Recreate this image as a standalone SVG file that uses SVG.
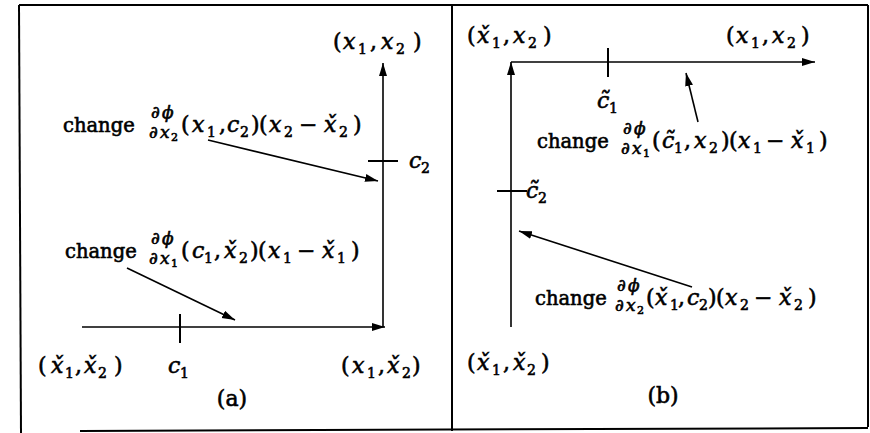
<svg xmlns="http://www.w3.org/2000/svg" width="870" height="433" viewBox="0 0 870 433">
<style>
.t{font-family:"DejaVu Serif","Liberation Serif",serif;font-size:22px;fill:#000;stroke:#000;stroke-width:0.6}
.ch{font-size:19.5px}
.i{font-style:italic;font-size:22px}
.s{font-size:14px}
.f{font-size:17px;font-style:italic}
.fs{font-size:11px}
.ln{stroke:#000;stroke-width:2;fill:none}
.ar{stroke:#000;stroke-width:1.6;fill:none;marker-end:url(#ah)}
.fr{stroke:#000;stroke-width:2;fill:none}
</style>
<defs>
<marker id="ah" markerUnits="userSpaceOnUse" markerWidth="14" markerHeight="10" refX="13" refY="4" orient="auto">
<path d="M0,0 L13,4 L0,8 Z" fill="#000"/>
</marker>
</defs>
<rect width="870" height="433" fill="#fff"/>
<g id="frame">
<line class="fr" x1="19" y1="5" x2="868" y2="5"/>
<line class="fr" x1="19" y1="5" x2="21" y2="433"/>
<line class="fr" x1="868" y1="5" x2="868" y2="427"/>
<line class="fr" x1="452" y1="5" x2="452" y2="431"/>
<line class="fr" x1="80" y1="431" x2="868" y2="428"/>
</g>
<g id="connectors">
<line class="ar" x1="82" y1="327" x2="385" y2="327"/>
<line class="ar" x1="383" y1="327" x2="383" y2="63"/>
<line class="ln" x1="368" y1="161" x2="398" y2="161"/>
<line class="ln" x1="180" y1="314" x2="180" y2="343"/>
<line class="ar" x1="208" y1="140" x2="378" y2="181"/>
<line class="ar" x1="127" y1="268" x2="235" y2="320"/>
<line class="ar" x1="511" y1="62" x2="815" y2="62"/>
<line class="ar" x1="511" y1="327" x2="511" y2="62"/>
<line class="ln" x1="608" y1="48" x2="608" y2="77"/>
<line class="ln" x1="497" y1="191" x2="527" y2="191"/>
<line class="ar" x1="698" y1="122" x2="686" y2="73"/>
<line class="ar" x1="692" y1="287" x2="519" y2="231"/>
</g>
<g id="panel-a">
<g id="a-top">
<text class="t"><tspan x="333" y="49">(</tspan><tspan class="i" x="343">x</tspan><tspan class="s" x="358" y="54">1</tspan><tspan x="370" y="49">,</tspan><tspan class="i" x="381">x</tspan><tspan class="s" x="396" y="54">2</tspan><tspan x="413" y="49">)</tspan></text>
</g>
<g id="a-c2">
<text class="t"><tspan class="i" x="409" y="168">c</tspan><tspan class="s" x="421" y="173">2</tspan></text>
</g>
<g id="a-change2">
<text class="t"><tspan class="ch" x="63" y="132">change</tspan><tspan class="f" x="151 162" y="118">∂ϕ</tspan><tspan class="f" x="149 160" y="138">∂x</tspan><tspan class="fs" x="171" y="141">2</tspan><tspan x="181" y="132">(</tspan><tspan class="i" x="192">x</tspan><tspan class="s" x="207" y="137">1</tspan><tspan x="219" y="132">,</tspan><tspan class="i" x="227">c</tspan><tspan class="s" x="240" y="137">2</tspan><tspan x="251" y="132">)</tspan><tspan x="259">(</tspan><tspan class="i" x="269">x</tspan><tspan class="s" x="284" y="137">2</tspan><tspan x="299" y="132">−</tspan><tspan class="i" x="324">x̌</tspan><tspan class="s" x="339" y="137">2</tspan><tspan x="353" y="132">)</tspan></text>
</g>
<g id="a-change1">
<text class="t"><tspan class="ch" x="65" y="258">change</tspan><tspan class="f" x="151 162" y="244">∂ϕ</tspan><tspan class="f" x="149 160" y="264">∂x</tspan><tspan class="fs" x="171" y="267">1</tspan><tspan x="181" y="258">(</tspan><tspan class="i" x="192">c</tspan><tspan class="s" x="204" y="263">1</tspan><tspan x="214" y="258">,</tspan><tspan class="i" x="224">x̌</tspan><tspan class="s" x="239" y="263">2</tspan><tspan x="250" y="258">)</tspan><tspan x="258">(</tspan><tspan class="i" x="268">x</tspan><tspan class="s" x="283" y="263">1</tspan><tspan x="297" y="258">−</tspan><tspan class="i" x="322">x̌</tspan><tspan class="s" x="337" y="263">1</tspan><tspan x="351" y="258">)</tspan></text>
</g>
<g id="a-start">
<text class="t"><tspan x="38" y="373">(</tspan><tspan class="i" x="51">x̌</tspan><tspan class="s" x="65" y="378">1</tspan><tspan x="75" y="373">,</tspan><tspan class="i" x="84">x̌</tspan><tspan class="s" x="98" y="378">2</tspan><tspan x="114" y="373">)</tspan></text>
</g>
<g id="a-c1">
<text class="t"><tspan class="i" x="168" y="373">c</tspan><tspan class="s" x="180" y="378">1</tspan></text>
</g>
<g id="a-corner">
<text class="t"><tspan x="341" y="373">(</tspan><tspan class="i" x="352">x</tspan><tspan class="s" x="367" y="378">1</tspan><tspan x="378" y="373">,</tspan><tspan class="i" x="387">x̌</tspan><tspan class="s" x="402" y="378">2</tspan><tspan x="412" y="373">)</tspan></text>
</g>
<g id="a-caption">
<text class="t" x="232" y="406" text-anchor="middle" font-size="24">(a)</text>
</g>
</g>
<g id="panel-b">
<g id="b-corner">
<text class="t"><tspan x="467" y="43">(</tspan><tspan class="i" x="477">x̌</tspan><tspan class="s" x="492" y="48">1</tspan><tspan x="503" y="43">,</tspan><tspan class="i" x="513">x</tspan><tspan class="s" x="528" y="48">2</tspan><tspan x="543" y="43">)</tspan></text>
</g>
<g id="b-top">
<text class="t"><tspan x="726" y="43">(</tspan><tspan class="i" x="736">x</tspan><tspan class="s" x="751" y="48">1</tspan><tspan x="762" y="43">,</tspan><tspan class="i" x="772">x</tspan><tspan class="s" x="787" y="48">2</tspan><tspan x="801" y="43">)</tspan></text>
</g>
<g id="b-c1">
<text class="t"><tspan class="i" x="597" y="108">c̃</tspan><tspan class="s" x="609" y="113">1</tspan></text>
</g>
<g id="b-change1">
<text class="t"><tspan class="ch" x="537" y="148">change</tspan><tspan class="f" x="623 634" y="134">∂ϕ</tspan><tspan class="f" x="621 632" y="154">∂x</tspan><tspan class="fs" x="643" y="157">1</tspan><tspan x="652" y="148">(</tspan><tspan class="i" x="662">c̃</tspan><tspan class="s" x="674" y="153">1</tspan><tspan x="684" y="148">,</tspan><tspan class="i" x="694">x</tspan><tspan class="s" x="709" y="153">2</tspan><tspan x="721" y="148">)</tspan><tspan x="729">(</tspan><tspan class="i" x="738">x</tspan><tspan class="s" x="753" y="153">1</tspan><tspan x="766" y="148">−</tspan><tspan class="i" x="791">x̌</tspan><tspan class="s" x="806" y="153">1</tspan><tspan x="819" y="148">)</tspan></text>
</g>
<g id="b-c2">
<text class="t"><tspan class="i" x="526" y="198">c̃</tspan><tspan class="s" x="538" y="203">2</tspan></text>
</g>
<g id="b-change2">
<text class="t"><tspan class="ch" x="535" y="305">change</tspan><tspan class="f" x="617 628" y="291">∂ϕ</tspan><tspan class="f" x="615 626" y="311">∂x</tspan><tspan class="fs" x="637" y="314">2</tspan><tspan x="646" y="305">(</tspan><tspan class="i" x="655">x̌</tspan><tspan class="s" x="670" y="310">1</tspan><tspan x="678" y="305">,</tspan><tspan class="i" x="687">c</tspan><tspan class="s" x="699" y="310">2</tspan><tspan x="708" y="305">)</tspan><tspan x="716">(</tspan><tspan class="i" x="725">x</tspan><tspan class="s" x="740" y="310">2</tspan><tspan x="754" y="305">−</tspan><tspan class="i" x="779">x̌</tspan><tspan class="s" x="794" y="310">2</tspan><tspan x="808" y="305">)</tspan></text>
</g>
<g id="b-start">
<text class="t"><tspan x="467" y="370">(</tspan><tspan class="i" x="477">x̌</tspan><tspan class="s" x="492" y="375">1</tspan><tspan x="503" y="370">,</tspan><tspan class="i" x="513">x̌</tspan><tspan class="s" x="527" y="375">2</tspan><tspan x="541" y="370">)</tspan></text>
</g>
<g id="b-caption">
<text class="t" x="663" y="403" text-anchor="middle" font-size="24">(b)</text>
</g>
</g>
</svg>
